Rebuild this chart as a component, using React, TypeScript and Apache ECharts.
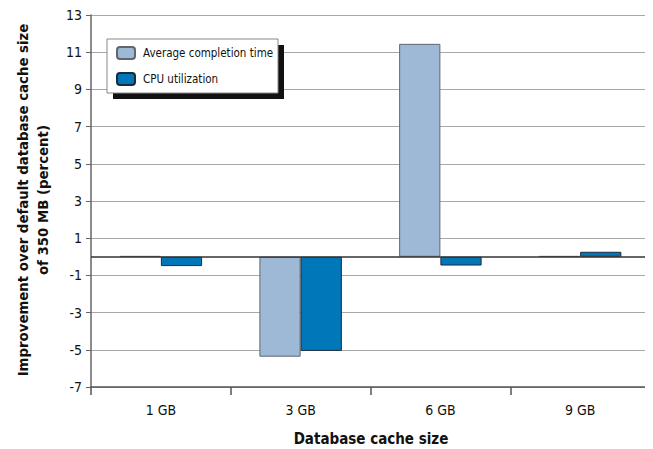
import React, { useEffect, useRef } from "react";
import * as echarts from "echarts";

const categories = ["1 GB", "3 GB", "6 GB", "9 GB"];
const avgCompletion = [0.04, -5.37, 11.45, 0.04];
const cpuUtilization = [-0.5, -5.06, -0.47, 0.27];
const seriesNames = ["Average completion time", "CPU utilization"];
const yTitleLines = ["Improvement over default database cache size", "of 350 MB (percent)"];
const xTitle = "Database cache size";

const FONT = "'DejaVu Sans Condensed', 'Liberation Sans', sans-serif";

export default function App() {
  const ref = useRef<HTMLDivElement>(null);

  useEffect(() => {
    if (!ref.current) return;
    const chart = echarts.init(ref.current, undefined, { renderer: "svg" });

    chart.setOption({
      animation: false,
      backgroundColor: "#ffffff",
      textStyle: { fontFamily: FONT },
      grid: { left: 91, right: 3, top: 15, bottom: 62, containLabel: false },
      legend: {
        orient: "vertical",
        left: 116,
        top: 46,
        padding: 0,
        itemWidth: 18,
        itemHeight: 12,
        itemGap: 12,
        z: 10,
        textStyle: { fontFamily: FONT, fontSize: 11.5, color: "#111", padding: [0, 0, 0, 3] },
        data: seriesNames,
      },
      graphic: [
        // legend frame with its hard drop shadow
        { type: "rect", z: 5, shape: { x: 113, y: 45, width: 171, height: 54 }, style: { fill: "#111" } },
        {
          type: "rect",
          z: 6,
          shape: { x: 107, y: 39, width: 171, height: 54 },
          style: { fill: "#ffffff", stroke: "#888", lineWidth: 1 },
        },
        {
          type: "text",
          x: 32,
          y: 200,
          rotation: Math.PI / 2,
          style: {
            text: yTitleLines.join("\n"),
            fontFamily: FONT,
            fontSize: 14.8,
            fontWeight: "bold",
            fill: "#111",
            align: "center",
            verticalAlign: "middle",
            lineHeight: 20,
          },
        },
        {
          type: "text",
          x: 371,
          y: 439,
          style: {
            text: xTitle,
            fontFamily: FONT,
            fontSize: 15,
            fontWeight: "bold",
            fill: "#111",
            align: "center",
            verticalAlign: "middle",
          },
        },
      ],
      xAxis: {
        type: "category",
        data: categories,
        axisLine: { onZero: false, lineStyle: { color: "#555", width: 1.5 } },
        axisTick: { show: true, length: 8, lineStyle: { color: "#555", width: 1.5 } },
        axisLabel: { fontFamily: FONT, fontSize: 14, color: "#111", margin: 16 },
        splitLine: { show: false },
      },
      yAxis: [
        {
          type: "value",
          min: -7,
          max: 13,
          interval: 2,
          axisLine: { show: true, lineStyle: { color: "#666", width: 1.5 } },
          axisTick: { show: true, length: 5, lineStyle: { color: "#666", width: 1 } },
          axisLabel: { fontFamily: FONT, fontSize: 14, color: "#111", margin: 9 },
          splitLine: { show: true, lineStyle: { color: "#a8a8a8", width: 1 } },
        },
        {
          type: "value",
          position: "right",
          min: -7,
          max: 13,
          interval: 2,
          axisLine: { show: true, lineStyle: { color: "#666", width: 2 } },
          axisTick: { show: false },
          axisLabel: { show: false },
          splitLine: { show: false },
        },
      ],
      series: [
        {
          name: seriesNames[0],
          type: "bar",
          data: avgCompletion,
          barGap: "0%",
          barCategoryGap: "41%",
          itemStyle: { color: "#9db9d6", borderColor: "#5e6672", borderWidth: 1 },
          markLine: {
            silent: true,
            symbol: "none",
            label: { show: false },
            lineStyle: { color: "#333", width: 1.5, type: "solid" },
            data: [{ yAxis: 0 }],
          },
        },
        {
          name: seriesNames[1],
          type: "bar",
          data: cpuUtilization,
          itemStyle: { color: "#0077b8", borderColor: "#1e2b3c", borderWidth: 1 },
        },
      ],
    });

    return () => chart.dispose();
  }, []);

  return <div ref={ref} style={{ width: 653, height: 449, marginLeft: -8, marginTop: -8 }} />;
}
